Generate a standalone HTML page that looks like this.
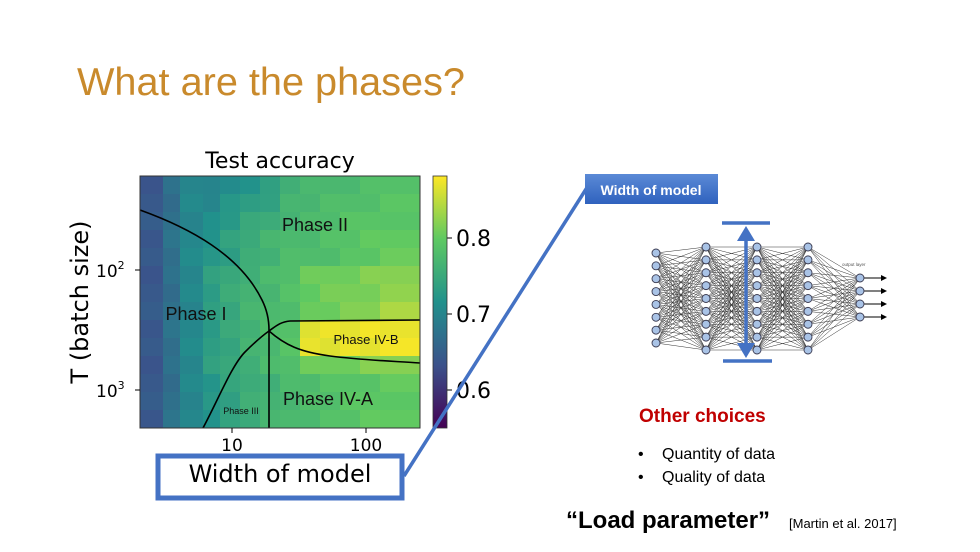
<!DOCTYPE html>
<html><head><meta charset="utf-8"><style>
html,body{margin:0;padding:0;background:#fff;}
body{width:980px;height:552px;overflow:hidden;position:relative;font-family:"Liberation Sans","DejaVu Sans",sans-serif;}
</style></head><body>
<svg id="s" width="980" height="552" viewBox="0 0 980 552" xmlns="http://www.w3.org/2000/svg" style="position:absolute;left:0;top:0">
<defs>
<linearGradient id="cb" x1="0" y1="1" x2="0" y2="0">
<stop offset="0" stop-color="#440154"/><stop offset="0.25" stop-color="#3b528b"/><stop offset="0.5" stop-color="#21918c"/><stop offset="0.75" stop-color="#5ec962"/><stop offset="1" stop-color="#fde725"/>
</linearGradient>
<linearGradient id="bl" x1="0" y1="0" x2="0" y2="1"><stop offset="0" stop-color="#5b8ad6"/><stop offset="1" stop-color="#2f62be"/></linearGradient>
<marker id="ah" markerWidth="6" markerHeight="6" refX="5" refY="3" orient="auto"><path d="M0,0 L6,3 L0,6z" fill="#000"/></marker>
</defs>
<text x="77" y="95" font-family="Liberation Sans, sans-serif" font-size="39" fill="#c98a2c" textLength="388" lengthAdjust="spacingAndGlyphs">What are the phases?</text>
<g id="heat"></g>
<g fill="none" stroke="#000" stroke-width="1.6">
<path d="M140,210 C190,228 240,255 262,300 C268,312 269,322 269,330 L269,428"/>
<path d="M203,428 C218,400 232,365 245,352 C255,342 262,336 269,331 C276,326 280,322 290,321 L420,320"/>
<path d="M269,331 C285,345 300,352 330,356 C360,360 390,361 420,363"/>
</g>
<rect x="140" y="176" width="280" height="252" fill="none" stroke="#333" stroke-width="1"/>
<text x="315" y="231" font-size="18" text-anchor="middle" fill="#111">Phase II</text>
<text x="196" y="320" font-size="18" text-anchor="middle" fill="#111">Phase I</text>
<text x="366" y="344" font-size="13" text-anchor="middle" fill="#111">Phase IV-B</text>
<text x="328" y="405" font-size="18" text-anchor="middle" fill="#111">Phase IV-A</text>
<text x="241" y="414" font-size="9" text-anchor="middle" fill="#111">Phase III</text>
<text x="280" y="168" font-family="DejaVu Sans, sans-serif" font-size="22" text-anchor="middle" fill="#000">Test accuracy</text>
<g font-family="DejaVu Sans, sans-serif" fill="#000">
<text x="232" y="451" font-size="17" text-anchor="middle">10</text>
<text x="366" y="451" font-size="17" text-anchor="middle">100</text>
<text x="96" y="277" font-size="17">10<tspan font-size="11" dy="-8">2</tspan></text>
<text x="96" y="397" font-size="17">10<tspan font-size="11" dy="-8">3</tspan></text>
<text transform="translate(88,302) rotate(-90)" font-size="24" text-anchor="middle">T (batch size)</text>
<text x="456" y="246" font-size="22">0.8</text>
<text x="456" y="322" font-size="22">0.7</text>
<text x="456" y="398" font-size="22">0.6</text>
</g>
<g stroke="#000" stroke-width="1">
<line x1="232" y1="428" x2="232" y2="433"/><line x1="366" y1="428" x2="366" y2="433"/>
<line x1="135" y1="270" x2="140" y2="270"/><line x1="135" y1="390" x2="140" y2="390"/>
<line x1="447" y1="238" x2="452" y2="238"/><line x1="447" y1="314" x2="452" y2="314"/><line x1="447" y1="390" x2="452" y2="390"/>
</g>
<rect x="433" y="176" width="14" height="252" fill="url(#cb)" stroke="#333" stroke-width="0.8"/>
<rect x="158" y="456" width="244" height="42" fill="#fff" stroke="#4472c4" stroke-width="5"/>
<text x="280" y="482" font-family="DejaVu Sans, sans-serif" font-size="24" text-anchor="middle" fill="#000">Width of model</text>
<line x1="404" y1="476" x2="588" y2="186" stroke="#4472c4" stroke-width="3.5"/>
<rect x="585" y="174" width="133" height="30" fill="url(#bl)"/>
<text x="651" y="195" font-size="14" font-weight="bold" text-anchor="middle" fill="#fff">Width of model</text>
<g id="net"></g>
<text x="842" y="266" font-size="4.5" fill="#555">output layer</text>
<g stroke="#4472c4" stroke-width="3.5" fill="#4472c4">
<line x1="722" y1="223" x2="770" y2="223"/><line x1="723" y1="361" x2="772" y2="361"/>
<line x1="746" y1="238" x2="746" y2="346"/>
<path d="M746,226 L737,241 L755,241z" stroke="none"/><path d="M746,358 L737,343 L755,343z" stroke="none"/>
</g>
<text x="639" y="422" font-size="19" font-weight="bold" fill="#c00000">Other choices</text>
<text x="638" y="459" font-size="16" fill="#000">•</text><text x="662" y="459" font-size="16" fill="#000">Quantity of data</text>
<text x="638" y="482" font-size="16" fill="#000">•</text><text x="662" y="482" font-size="16" fill="#000">Quality of data</text>
<text x="566" y="528" font-size="24" font-weight="bold" fill="#000">“Load parameter”</text>
<text x="789" y="528" font-size="13" fill="#000">[Martin et al. 2017]</text>
</svg>
<script>
(function(){
var NS="http://www.w3.org/2000/svg";
function el(n,a,p){var e=document.createElementNS(NS,n);for(var k in a)e.setAttribute(k,a[k]);p.appendChild(e);return e;}
var stops=[[0,[68,1,84]],[.25,[59,82,139]],[.5,[33,145,140]],[.75,[94,201,98]],[1,[253,231,37]]];
function vir(t){t=Math.max(0,Math.min(1,t));for(var i=1;i<stops.length;i++){if(t<=stops[i][0]){var a=stops[i-1],b=stops[i],f=(t-a[0])/(b[0]-a[0]);return "rgb("+[0,1,2].map(function(j){return Math.round(a[1][j]+(b[1][j]-a[1][j])*f)}).join(",")+")";}}return "rgb(253,231,37)";}
var xs=[140,163,180,203,220,240,260,280,300,320,340,360,380,420];
var base=[0.64,0.67,0.70,0.72,0.735,0.75,0.76,0.77,0.775,0.78,0.785,0.79,0.795];
var h=document.getElementById("heat");var rows=14,rh=252/rows;
for(var r=0;r<rows;r++){for(var c=0;c<13;c++){
var v=base[c];
if(c>=3){ if(r<3) v-=0.01*(3-r)*(c<7?1:0.4); if(r>=5&&r<=10) v+=0.01+(c>7?0.012:0); }
if(c>=8&&(r==8||r==9)) v=0.865; if(c>=12&&r==7) v=0.84;
v+=((r*7+c*13)%5-2)*0.003;
var t=(v-0.55)/(0.875-0.55);
el("rect",{x:xs[c],y:(176+r*rh).toFixed(2),width:xs[c+1]-xs[c]+0.5,height:(rh+0.5).toFixed(2),fill:vir(t)},h);}}
var net=document.getElementById("net");
function col(x,n,y0,y1){var a=[];for(var i=0;i<n;i++)a.push([x,y0+(y1-y0)*i/(n-1)]);return a;}
var L=[col(656,8,253,343),col(706,9,247,350),col(757,9,247,350),col(808,9,247,350),col(860,4,278,317)];
for(var l=0;l<4;l++)for(var i=0;i<L[l].length;i++)for(var j=0;j<L[l+1].length;j++)
el("line",{x1:L[l][i][0],y1:L[l][i][1],x2:L[l+1][j][0],y2:L[l+1][j][1],stroke:"#333","stroke-width":"0.5"},net);
L[4].forEach(function(p){el("line",{x1:p[0],y1:p[1],x2:886,y2:p[1],stroke:"#000","stroke-width":"1","marker-end":"url(#ah)"},net);});
L.forEach(function(a){a.forEach(function(p){el("circle",{cx:p[0],cy:p[1],r:4,fill:"#a9c3e6",stroke:"#3a3a50","stroke-width":"0.9"},net);});});
})();
</script>
</body></html>
